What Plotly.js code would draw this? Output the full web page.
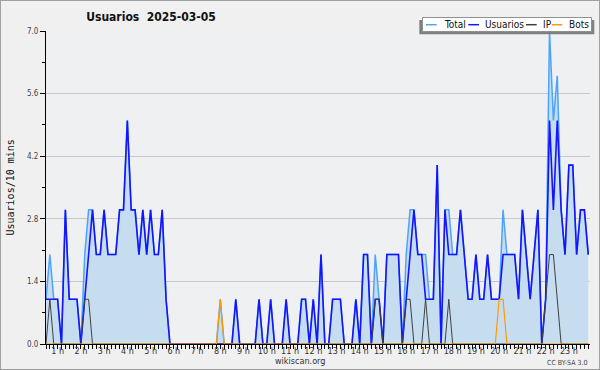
<!DOCTYPE html>
<html>
<head>
<meta charset="utf-8">
<script src="https://cdn.plot.ly/plotly-3.0.1.min.js"></script>
<style>
html,body{margin:0;padding:0;background:#f0f0f0;}
#wrap{position:relative;width:600px;height:370px;}
#chart{width:600px;height:370px;}
#frame{position:absolute;left:0;top:0;width:598px;height:368px;border:1px solid #a0a0a0;pointer-events:none;}
</style>
</head>
<body>
<div id="wrap"><div id="chart"></div><div id="frame"></div></div>
<script>
// 10-minute slots from 00:00 (index 0) to 23:20 (index 140)
const total = [
1,2,1,1,0,3,1,1,1,0,
2,3,3,2,2,3,2,2,2,3,
3,5,3,3,2,3,2,3,2,2,
3,1,0,0,0,0,0,0,0,0,
0,0,0,0,0,1,0,0,0,1,
0,0,0,0,0,1,0,0,1,0,
0,0,1,0,0,0,1,1,0,1,
0,2,0,0,1,1,1,0,0,0,
1,0,2,2,0,2,1,0,2,2,
2,2,0,2,3,3,2,2,2,1,
1,4,0,3,3,2,2,3,2,1,
1,2,1,1,2,1,1,1,3,2,
2,2,1,3,2,1,2,3,0,1,
7,5,6,3,2,4,4,2,3,3,2];
const usuarios = [
1,1,1,1,0,3,1,1,1,0,
1,2,3,2,2,3,2,2,2,3,
3,5,3,3,2,3,2,3,2,2,
3,1,0,0,0,0,0,0,0,0,
0,0,0,0,0,0,0,0,0,1,
0,0,0,0,0,1,0,0,1,0,
0,0,1,0,0,0,1,1,0,1,
0,2,0,0,1,1,1,0,0,0,
1,0,2,2,0,1,1,0,2,2,
2,2,0,1,2,3,2,2,1,1,
1,4,0,3,2,2,2,3,2,1,
1,2,1,1,2,1,1,1,2,2,
2,2,1,3,2,1,2,3,0,1,
5,3,5,3,2,4,4,2,3,3,2];
const ip = [
0,1,0,0,0,0,0,0,0,0,
1,1,0,0,0,0,0,0,0,0,
0,0,0,0,0,0,0,0,0,0,
0,0,0,0,0,0,0,0,0,0,
0,0,0,0,0,0,0,0,0,0,
0,0,0,0,0,0,0,0,0,0,
0,0,0,0,0,0,0,0,0,0,
0,0,0,0,0,0,0,0,0,0,
0,0,0,0,0,1,1,0,0,0,
0,0,0,1,1,0,0,0,1,0,
0,0,0,0,1,0,0,0,0,0,
0,0,0,0,0,0,0,0,0,0,
0,0,0,0,0,0,0,0,0,1,
2,2,1,0,0,0,0,0,0,0,0];
const bots = [
0,0,0,0,0,0,0,0,0,0,
0,0,0,0,0,0,0,0,0,0,
0,0,0,0,0,0,0,0,0,0,
0,0,0,0,0,0,0,0,0,0,
0,0,0,0,0,1,0,0,0,0,
0,0,0,0,0,0,0,0,0,0,
0,0,0,0,0,0,0,0,0,0,
0,0,0,0,0,0,0,0,0,0,
0,0,0,0,0,0,0,0,0,0,
0,0,0,0,0,0,0,0,0,0,
0,0,0,0,0,0,0,0,0,0,
0,0,0,0,0,0,0,1,1,0,
0,0,0,0,0,0,0,0,0,0,
0,0,0,0,0,0,0,0,0,0,0];
const hourLabels = ["1 h","2 h","3 h","4 h","5 h","6 h","7 h","8 h","9 h","10 h","11 h","12 h",
  "13 h","14 h","15 h","16 h","17 h","18 h","19 h","20 h","21 h","22 h","23 h"];
const yTicks = [0, 1.4, 2.8, 4.2, 5.6, 7.0];
const seriesNames = ["Total", "Usuarios", "IP", "Bots"];
const seriesColors = ["#4da3ff", "#1414ff", "#404040", "#ff9900"];

const F = '"DejaVu Sans Condensed", "DejaVu Sans", sans-serif';
const x = total.map((_, i) => i);

// x ticks: one per 10-minute slot, hour labels centred in each hour
const tickvals = x.slice();
const ticktext = x.map(i => {
  const n = (i + 3) / 6;
  return Number.isInteger(n) && n >= 1 && n <= hourLabels.length ? hourLabels[n - 1] : "";
});

const traces = [
  {x: x, y: total, name: seriesNames[0], mode: "lines", line: {color: seriesColors[0], width: 1.5},
   fill: "tozeroy", fillcolor: "#c6ddf0"},
  {x: x, y: usuarios, name: seriesNames[1], mode: "lines", line: {color: seriesColors[1], width: 1.6}},
  {x: x, y: ip, name: seriesNames[2], mode: "lines", line: {color: seriesColors[2], width: 1}},
  {x: x, y: bots, name: seriesNames[3], mode: "lines", line: {color: seriesColors[3], width: 1.2}}
];

// pixel -> paper helpers (plot area 46..590 x 31..344)
const L = 46, R = 590, T = 31, B = 344;
const px = v => (v - L) / (R - L);
const py = v => (B - v) / (B - T);

const shapes = [
  {type: "rect", xref: "paper", yref: "paper", x0: px(419.3), x1: px(594.3), y0: py(34.3), y1: py(20),
   fillcolor: "#808080", line: {width: 0}, layer: "above"},
  {type: "rect", xref: "paper", yref: "paper", x0: px(422.5), x1: px(591.5), y0: py(31.5), y1: py(17.5),
   fillcolor: "#ffffff", line: {color: "#909090", width: 1}, layer: "above"}
];
const annotations = [];
const legLine = [[426, 436.7], [468.3, 479], [526, 536.7], [551.7, 562.3]];
const legText = [442, 483, 541, 567];
seriesNames.forEach((nm, k) => {
  shapes.push({type: "line", xref: "paper", yref: "paper", x0: px(legLine[k][0]), x1: px(legLine[k][1]),
    y0: py(24.7), y1: py(24.7), line: {color: seriesColors[k], width: 1.5}, layer: "above"});
  annotations.push({xref: "paper", yref: "paper", x: px(legText[k]), y: py(24.5), xanchor: "left", yanchor: "middle",
    text: nm, showarrow: false, font: {family: F, size: 10, color: "#111"}});
});
annotations.push({xref: "paper", yref: "paper", x: px(10), y: 0.5, xanchor: "center", yanchor: "middle",
  text: "Usuarios/10 mins", textangle: -90, showarrow: false,
  font: {family: '"DejaVu Sans Mono", monospace', size: 10, color: "#111"}});
annotations.push({xref: "paper", yref: "paper", x: px(300), y: py(361.5), xanchor: "center", yanchor: "middle",
  text: "wikiscan.org", showarrow: false, font: {family: F, size: 9, color: "#333"}});
annotations.push({xref: "paper", yref: "paper", x: px(589), y: py(362.5), xanchor: "right", yanchor: "middle",
  text: "CC BY-SA 3.0", showarrow: false, font: {family: F, size: 7, color: "#444"}});

const layout = {
  width: 600, height: 370,
  margin: {l: 46, r: 10, t: 31, b: 26, pad: 0},
  paper_bgcolor: "#f0f0f0", plot_bgcolor: "#eef0f2",
  showlegend: false,
  title: {text: "<b>Usuarios\u00a0\u00a02025-03-05</b>", xref: "container", yref: "container",
    x: 151 / 600, xanchor: "center", y: 1 - 16.5 / 370, yanchor: "middle",
    font: {family: F, size: 12, color: "#111"}},
  xaxis: {range: [0, 140.45], tickmode: "array", tickvals: tickvals, ticktext: ticktext,
    ticks: "outside", ticklen: 4, tickwidth: 1, tickcolor: "#000", ticklabelstandoff: -6,
    showline: true, linecolor: "#000", linewidth: 1, showgrid: false, zeroline: false,
    tickfont: {family: F, size: 9, color: "#333"}, fixedrange: true},
  yaxis: {range: [0, 7], tickmode: "array", tickvals: yTicks, ticktext: yTicks.map(v => v.toFixed(1)),
    ticks: "outside", ticklen: 5, tickwidth: 1, tickcolor: "#000",
    showline: true, linecolor: "#000", linewidth: 1, showgrid: true, gridcolor: "#c8c8c8", gridwidth: 1,
    zeroline: false, tickfont: {family: F, size: 8, color: "#444"}, fixedrange: true,
    minor: {tickmode: "array", tickvals: [0.7, 2.1, 3.5, 4.9, 6.3], ticks: "outside", ticklen: 3,
      tickcolor: "#000", showgrid: false}},
  shapes: shapes,
  annotations: annotations
};
Plotly.newPlot("chart", traces, layout, {staticPlot: true, displayModeBar: false});
</script>
</body>
</html>
